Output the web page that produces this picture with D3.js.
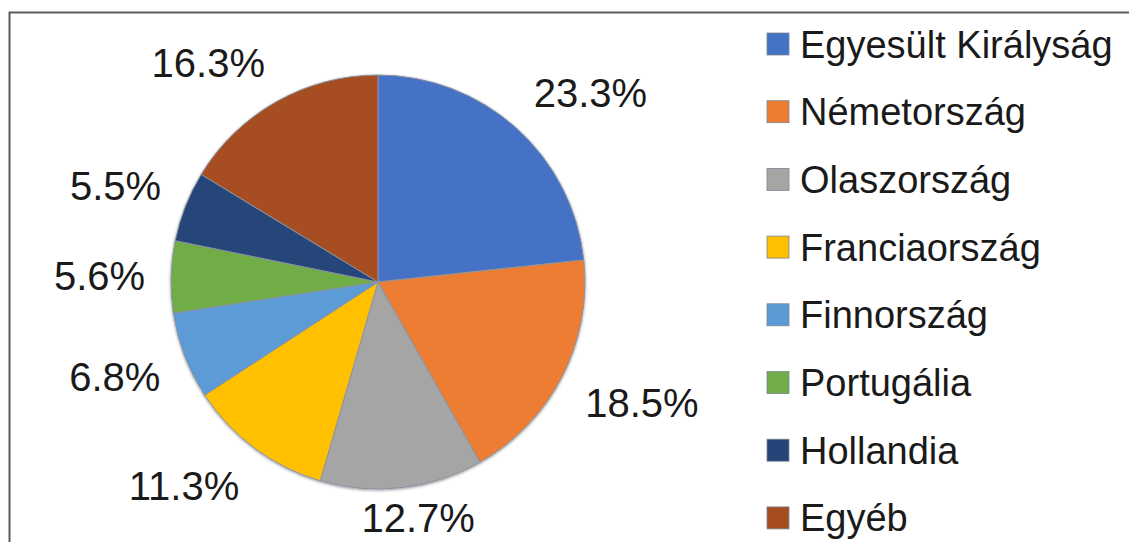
<!DOCTYPE html>
<html>
<head>
<meta charset="utf-8">
<script src="https://cdn.jsdelivr.net/npm/d3@7"></script>
<style>
  html, body { margin: 0; padding: 0; background: #fff; }
  svg { display: block; }
  text { font-family: "Liberation Sans", Arial, sans-serif; fill: #1a1a1a; }
</style>
</head>
<body>
<svg id="chart" width="1129" height="542"></svg>
<script>
// Share of each country (percent), clockwise from 12 o'clock
const categories = ["Egyesült Királyság", "Németország", "Olaszország", "Franciaország",
                    "Finnország", "Portugália", "Hollandia", "Egyéb"];
const shares = [23.3, 18.5, 12.7, 11.3, 6.8, 5.6, 5.5, 16.3];
const sliceColors = ["#4472C4", "#ED7D31", "#A5A5A5", "#FFC000",
                     "#5B9BD5", "#70AD47", "#264478", "#A64D20"];

const W = 1129, H = 542;
const cx = 378, cy = 282, radius = 207;

const svg = d3.select("#chart");

// outer frame
svg.append("rect")
  .attr("x", 9.5).attr("y", 12.5)
  .attr("width", W + 20).attr("height", H + 20)
  .attr("fill", "none").attr("stroke", "#5a5a5a").attr("stroke-width", 2);

const defs = svg.append("defs");
const shadow = defs.append("filter").attr("id", "pieShadow")
  .attr("x", "-10%").attr("y", "-10%").attr("width", "120%").attr("height", "120%");
shadow.append("feGaussianBlur").attr("in", "SourceAlpha").attr("stdDeviation", 1.5).attr("result", "b");
shadow.append("feOffset").attr("in", "b").attr("dx", 0).attr("dy", 1).attr("result", "o");
shadow.append("feComponentTransfer").attr("in", "o").attr("result", "s")
  .append("feFuncA").attr("type", "linear").attr("slope", 0.45);
const merge = shadow.append("feMerge");
merge.append("feMergeNode").attr("in", "s");
merge.append("feMergeNode").attr("in", "SourceGraphic");

const color = d3.scaleOrdinal().domain(categories).range(sliceColors);

const pie = d3.pie().sort(null).value(d => d.value)
  .startAngle(0).endAngle(2 * Math.PI);
const data = categories.map((c, i) => ({ name: c, value: shares[i] }));
const arcs = pie(data);

const arc = d3.arc().innerRadius(0).outerRadius(radius);

const g = svg.append("g").attr("transform", `translate(${cx},${cy})`);

g.append("g").attr("filter", "url(#pieShadow)")
  .selectAll("path")
  .data(arcs)
  .join("path")
  .attr("d", arc)
  .attr("fill", d => color(d.data.name))
  .attr("stroke", "#8a93a3")
  .attr("stroke-width", 1);

// percentage labels: anchor point just outside the rim on the mid-angle,
// label box pushed outward toward the matching corner, kept inside the frame
const labelFont = 40;
const anchorR = radius + 26;
const maxBaseline = H - cy - 10;
const clamp = v => Math.max(-1, Math.min(1, v));
g.selectAll("text.pct")
  .data(arcs)
  .join("text")
  .attr("class", "pct")
  .attr("text-anchor", "middle")
  .attr("font-size", labelFont)
  .text(d => d.data.value.toFixed(1) + "%")
  .each(function (d) {
    const w = this.getComputedTextLength();
    const h = labelFont * 0.8;
    const a = (d.startAngle + d.endAngle) / 2;
    const s = Math.sin(a), c = -Math.cos(a);
    const x = anchorR * s + (w / 2) * clamp(2 * s);
    const y = anchorR * c + (h / 2) * clamp(2 * c);
    d3.select(this).attr("x", x)
      .attr("y", Math.min(y + labelFont * 0.36, maxBaseline));
  });

// legend
const legendX = 767, legendTop = 44, legendStep = 67.7, sw = 22;
const legend = svg.append("g").selectAll("g")
  .data(categories)
  .join("g")
  .attr("transform", (d, i) => `translate(${legendX},${legendTop + i * legendStep})`);

legend.append("rect")
  .attr("x", 0).attr("y", -sw / 2)
  .attr("width", sw).attr("height", sw)
  .attr("fill", d => color(d))
  .attr("stroke", "#7d8696").attr("stroke-width", 0.8);

legend.append("text")
  .attr("x", 33).attr("y", 13.5)
  .attr("font-size", 38)
  .text(d => d);
</script>
</body>
</html>
